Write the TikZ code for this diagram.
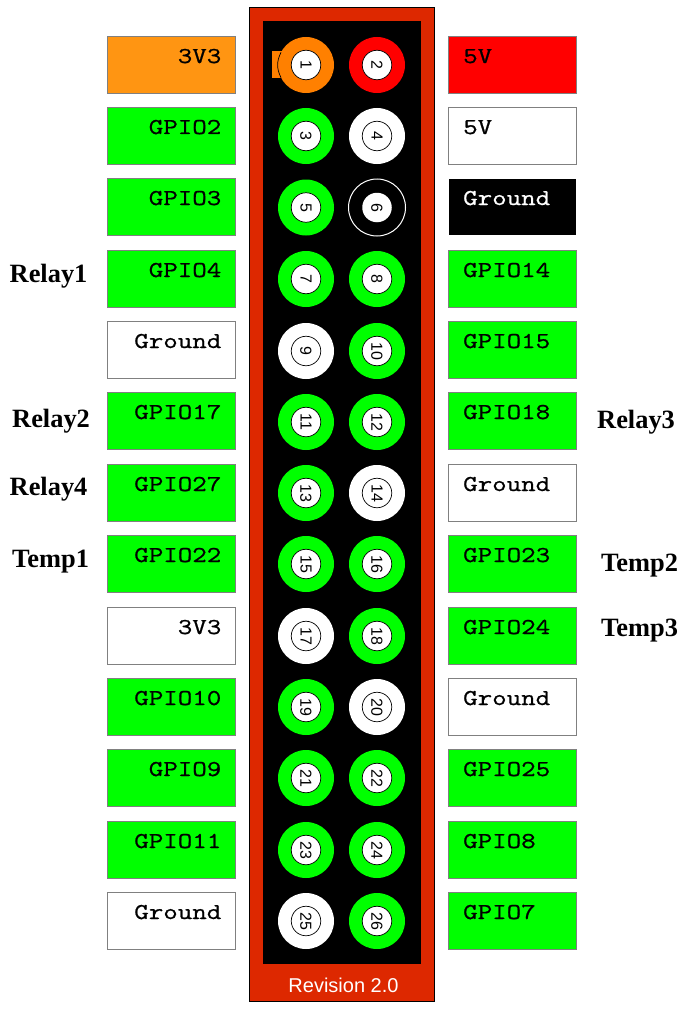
\documentclass[tikz,border=0pt]{standalone}
\usepackage{fontspec}
\setmainfont{Liberation Serif}
\newfontfamily\monof[FakeStretch=1.24,FakeBold=0.9]{Latin Modern Mono}
\newfontfamily\sansf{Liberation Sans}
\definecolor{frame}{HTML}{DD2800}
\definecolor{gpio}{HTML}{00FF00}
\definecolor{pinorange}{HTML}{FF8000}
\definecolor{boxorange}{HTML}{FF9512}
\definecolor{boxedge}{HTML}{808080}
\tikzset{
  x=1pt,y=-1pt,
  infobox/.style={draw=boxedge,line width=1pt,minimum width=128pt,minimum height=57pt,inner sep=0pt,outer sep=0pt,anchor=north west},
  boxtext/.style={font=\monof\fontsize{22.7}{24}\selectfont,inner sep=0pt,anchor=base},
  pinring/.style={circle,minimum size=56pt,inner sep=0pt,outer sep=0pt},
  pinhole/.style={circle,fill=white,draw=black,line width=0.7pt,minimum size=29.5pt,inner sep=0pt,font=\sansf\fontsize{16}{16}\selectfont,rotate=-90},
  sidelabel/.style={font=\bfseries\fontsize{26.4}{26.4}\selectfont,inner sep=0pt,anchor=base west},
}
\begin{document}
\begin{tikzpicture}
\useasboundingbox (0,0) rectangle (695,1014);
\node[draw=black,fill=frame,line width=1pt,minimum width=185pt,minimum height=994pt,inner sep=0pt,outer sep=0pt,anchor=north west] (board) at (249.5,7.5) {};
\fill[white] (249,1001.5) rectangle (435,1003);
\node[fill=black,minimum width=158pt,minimum height=943pt,inner sep=0pt,anchor=north west] (header) at (263,21) {};
\node[text=white,font=\sansf\fontsize{20}{20}\selectfont,inner sep=0pt,anchor=base] (rev) at (343.5,992) {Revision 2.0};
\node[fill=pinorange,minimum width=12pt,minimum height=27pt,inner sep=0pt,anchor=north west] (key) at (272,51) {};
% left column
\foreach \n/\y/\col/\txt in {
 L1/36.5/boxorange/3V3, L2/107.5/gpio/GPIO2, L3/178.5/gpio/GPIO3, L4/250.5/gpio/GPIO4,
 L5/321.5/white/Ground, L6/392.5/gpio/GPIO17, L7/464.5/gpio/GPIO27, L8/535.5/gpio/GPIO22,
 L9/607.5/white/3V3, L10/678.5/gpio/GPIO10, L11/749.5/gpio/GPIO9, L12/821.5/gpio/GPIO11,
 L13/892.5/white/Ground}{
  \node[infobox,fill=\col] (\n) at (107.5,\y) {};
  \node[boxtext,anchor=base east] (\n t) at (221.5,\y+26.5) {\txt};
}
% right column
\foreach \n/\y/\col/\tcol/\txt in {
 R1/36.5/red/black/5V, R2/107.5/white/black/5V, R3/178.5/black/white/Ground, R4/250.5/gpio/black/GPIO14,
 R5/321.5/gpio/black/GPIO15, R6/392.5/gpio/black/GPIO18, R7/464.5/white/black/Ground, R8/535.5/gpio/black/GPIO23,
 R9/607.5/gpio/black/GPIO24, R10/678.5/white/black/Ground, R11/749.5/gpio/black/GPIO25, R12/821.5/gpio/black/GPIO8,
 R13/892.5/gpio/black/GPIO7}{
  \node[infobox,fill=\col] (\n) at (448.5,\y) {};
  \node[boxtext,anchor=base west,text=\tcol] (\n t) at (463,\y+26.5) {\txt};
}
\draw[white,line width=1pt] (R3.north west) rectangle (R3.south east);
% pins
\foreach \num/\x/\y/\col in {
 1/306/65/pinorange, 2/377/65/red,
 3/306/136/gpio, 4/377/136/white,
 5/306/207.5/gpio,
 7/306/279/gpio, 8/377/279/gpio,
 9/306/351/white, 10/377/351/gpio,
 11/306/422/gpio, 12/377/422/gpio,
 13/306/493/gpio, 14/377/493/white,
 15/306/564/gpio, 16/377/564/gpio,
 17/306/636/white, 18/377/636/gpio,
 19/306/707/gpio, 20/377/707/white,
 21/306/778/gpio, 22/377/778/gpio,
 23/306/850/gpio, 24/377/850/gpio,
 25/306/921/white, 26/377/921/gpio}{
  \node[pinring,fill=\col] (ring\num) at (\x,\y) {};
  \node[pinhole] (pin\num) at (\x,\y) {\num};
}
\node[pinring,draw=white,line width=1pt,fill=black,minimum size=57pt] (ring6) at (377,207.5) {};
\node[pinhole,draw=none] (pin6) at (377,207.5) {6};
\draw[black,line width=0.7pt] (ring1.153) to[bend right=27.5] (ring1.207);
% side labels
\node[sidelabel] (relay1) at (9.5,282) {Relay1};
\node[sidelabel] (relay2) at (12,427) {Relay2};
\node[sidelabel] (relay4) at (9.5,495) {Relay4};
\node[sidelabel] (temp1) at (12,567) {Temp1};
\node[sidelabel] (relay3) at (597,428) {Relay3};
\node[sidelabel] (temp2) at (601,571) {Temp2};
\node[sidelabel] (temp3) at (601,636) {Temp3};
\end{tikzpicture}
\end{document}
